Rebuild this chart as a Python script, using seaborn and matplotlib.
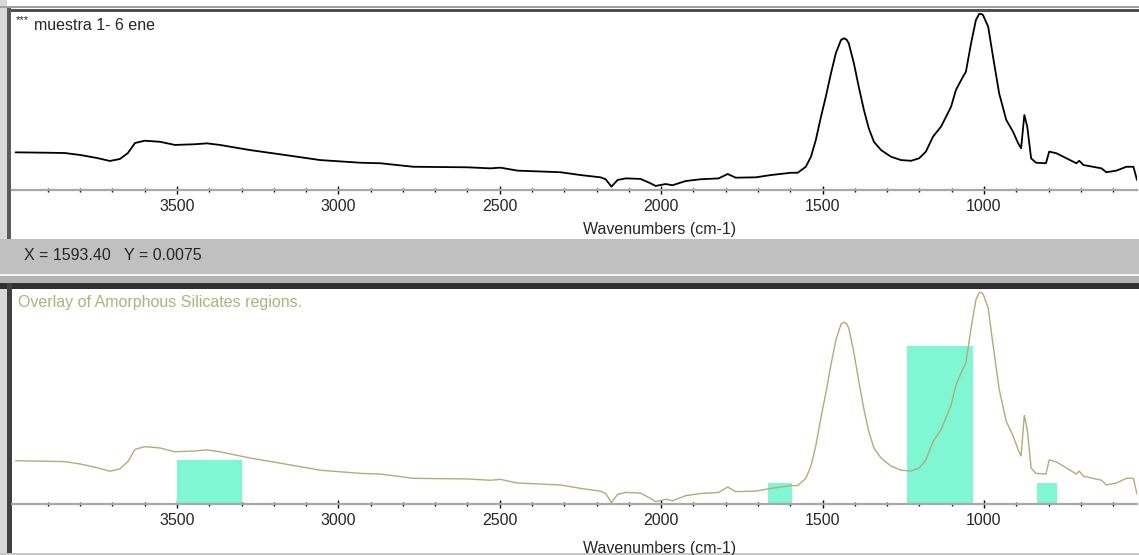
import numpy as np
import pandas as pd
import seaborn as sns
import matplotlib.pyplot as plt
from matplotlib.patches import Rectangle
from matplotlib.ticker import FixedLocator

# spectrum (wavenumber, relative absorbance)
wavenumber = [4000, 3909, 3847, 3800, 3748, 3708, 3677, 3652, 3630, 3600,
              3553, 3506, 3444, 3407, 3367, 3274, 3181, 3056, 2932, 2870,
              2768, 2600, 2529, 2498, 2445, 2312, 2250, 2188, 2172, 2154,
              2135, 2110, 2064, 2033, 2017, 1986, 1965, 1924, 1878, 1822,
              1794, 1769, 1707, 1660, 1598, 1577, 1552, 1536, 1521, 1505,
              1490, 1474, 1459, 1443, 1434, 1426, 1419, 1403, 1388, 1372,
              1357, 1341, 1319, 1288, 1257, 1226, 1201, 1180, 1158, 1133,
              1102, 1087, 1065, 1056, 1040, 1025, 1015, 1008, 1003, 987,
              972, 953, 931, 910, 894, 885, 875, 866, 854, 839,
              808, 798, 776, 754, 714, 705, 692, 636, 621, 590,
              559, 537, 526]
absorbance = [0.214, 0.212, 0.210, 0.199, 0.182, 0.165, 0.176, 0.210, 0.267, 0.280,
              0.274, 0.256, 0.260, 0.265, 0.256, 0.227, 0.203, 0.170, 0.155, 0.152,
              0.132, 0.129, 0.123, 0.127, 0.110, 0.101, 0.085, 0.072, 0.061, 0.019,
              0.057, 0.066, 0.063, 0.038, 0.023, 0.034, 0.027, 0.051, 0.061, 0.066,
              0.091, 0.070, 0.072, 0.085, 0.098, 0.098, 0.132, 0.189, 0.284, 0.416,
              0.530, 0.663, 0.777, 0.852, 0.862, 0.855, 0.834, 0.720, 0.587, 0.455,
              0.351, 0.274, 0.227, 0.189, 0.170, 0.166, 0.180, 0.218, 0.303, 0.360,
              0.473, 0.568, 0.644, 0.672, 0.834, 0.966, 1.000, 1.000, 0.994, 0.928,
              0.757, 0.549, 0.398, 0.331, 0.265, 0.237, 0.426, 0.360, 0.180, 0.155,
              0.152, 0.218, 0.209, 0.189, 0.152, 0.166, 0.142, 0.123, 0.101, 0.110,
              0.132, 0.132, 0.057]

# amorphous silicate regions (start, end, height)
region_start = [3500, 1670, 1240, 835]
region_end = [3300, 1595, 1035, 775]
region_height = [0.218, 0.112, 0.750, 0.112]

major_ticks = [3500, 3000, 2500, 2000, 1500, 1000]
minor_ticks = [t for t in range(3900, 500, -100) if t not in major_ticks]

W, H = 1139, 555
sns.set_style("white")
plt.rcParams["font.family"] = ["Liberation Sans", "DejaVu Sans"]
FS = 11.5

df = pd.DataFrame({"wn": wavenumber, "abs": absorbance})

fig = plt.figure(figsize=(W / 100, H / 100), dpi=100)
fig.patch.set_facecolor("white")


def box(x0, y0, x1, y1, color):
    # rectangle in pixel coords (y from top)
    fig.patches.append(Rectangle((x0 / W, 1 - y1 / H), (x1 - x0) / W, (y1 - y0) / H,
                                 transform=fig.transFigure, facecolor=color,
                                 edgecolor="none", zorder=-5))


# window chrome
box(0, 0, 7, H, "#d8d8d8")
box(0, 6, W, 8, "#a0a0a0")
box(7, 9, W, 12, "#505050")
box(0, 239, W, 274, "#c0c0c0")
box(0, 274, W, 276, "#f4f4f4")
box(0, 276, W, 283, "#b4b4b4")
box(0, 283, W, 289, "#303030")
box(7, 8, 11, 239, "#5a5a5a")
box(7, 283, 12, H, "#404040")
box(0, 553, W, H, "#c8c8c8")


def style_axis(ax, label_y):
    ax.set_xlim(4011, 526)
    for s in ["top", "left", "right"]:
        ax.spines[s].set_visible(False)
    ax.spines["bottom"].set_color("#a8a8a8")
    ax.spines["bottom"].set_linewidth(1.6)
    ax.set_yticks([])
    ax.set_ylabel("")
    ax.xaxis.set_major_locator(FixedLocator(major_ticks))
    ax.xaxis.set_minor_locator(FixedLocator(minor_ticks))
    ax.set_xticklabels([str(t) for t in major_ticks])
    ax.tick_params(axis="x", which="major", direction="inout", length=6, width=1,
                   color="black", labelsize=FS, pad=3.5, bottom=True)
    ax.tick_params(axis="x", which="minor", direction="inout", length=3, width=1,
                   color="black", bottom=True)
    ax.set_xlabel("Wavenumbers (cm-1)", fontsize=FS)
    ax.xaxis.set_label_coords(0.5755, label_y)
    ax.xaxis.label.set_va("center")
    ax.set_facecolor("none")


# top panel
ax1 = fig.add_axes([12 / W, (H - 190) / H, 1125 / W, 180 / H])
sns.lineplot(data=df, x="wn", y="abs", ax=ax1, color="black", linewidth=1.3,
             estimator=None, sort=False)
ax1.set_ylim(0, 180 / 176)
style_axis(ax1, -40 / 180)

# bottom panel
ax2 = fig.add_axes([12 / W, (H - 504) / H, 1125 / W, 214 / H])
widths = np.array(region_end) - np.array(region_start)
ax2.bar(region_start, region_height, width=widths, bottom=0,
        align="edge", color="#7ff7d2", linewidth=0, zorder=1)
sns.lineplot(data=df, x="wn", y="abs", ax=ax2, color="#b2ac78", linewidth=1.0,
             estimator=None, sort=False, zorder=2)
ax2.set_ylim(0.012, 1.012)
style_axis(ax2, -44 / 214)

# texts
fig.text(16 / W, 1 - 20 / H, "***", fontsize=8, va="center", ha="left")
fig.text(34 / W, 1 - 26 / H, "muestra 1- 6 ene", fontsize=FS, va="center", ha="left")
fig.text(24 / W, 1 - 256 / H, "X = 1593.40   Y = 0.0075", fontsize=FS,
         va="center", ha="left")
fig.text(18 / W, 1 - 303 / H, "Overlay of Amorphous Silicates regions.",
         fontsize=FS, va="center", ha="left", color="#b5b07a")

fig.savefig("out.png", dpi=100)
